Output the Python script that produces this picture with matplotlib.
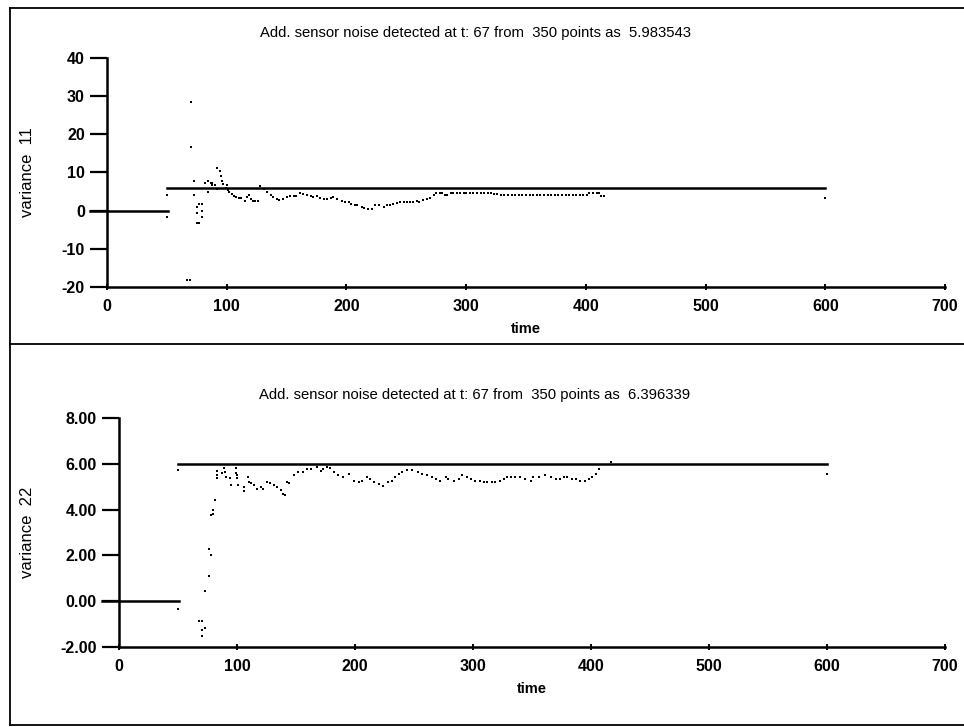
import matplotlib
matplotlib.use('Agg')
import matplotlib.pyplot as plt
from matplotlib.lines import Line2D

plt.rcParams['font.family'] = ['Liberation Sans', 'DejaVu Sans']
plt.rcParams['axes.unicode_minus'] = False

# ---- data ----
title_11 = 'Add. sensor noise detected at t: 67 from  350 points as  5.983543'
title_22 = 'Add. sensor noise detected at t: 67 from  350 points as  6.396339'

# detection levels (horizontal segments)
pre_t = [-14, 51]
pre_v = [0.0, 0.0]
level_t = [50, 600]
level_11 = [5.98, 5.98]
level_22 = [5.98, 5.98]

t_11 = [0, 50, 50, 67, 69, 70, 70, 73, 73, 75, 75, 75, 77, 77, 79, 79, 79,
        82, 84, 84, 87, 88, 88, 90, 92, 92, 94, 95, 96, 97, 99, 100, 101, 102,
        104, 106, 108, 110, 112, 115, 117, 119, 120, 122, 124, 126, 128, 131,
        134, 137, 139, 142, 144, 147, 150, 153, 156, 158, 161, 164, 167, 170,
        172, 175, 178, 181, 184, 187, 189, 192, 196, 199, 202, 204, 207, 209,
        213, 215, 218, 221, 224, 227, 231, 234, 236, 239, 242, 245, 248, 251,
        253, 256, 259, 261, 264, 267, 270, 273, 275, 278, 280, 282, 284, 287,
        289, 292, 295, 298, 300, 303, 306, 309, 312, 315, 318, 321, 323, 326,
        329, 332, 335, 338, 341, 344, 347, 350, 353, 356, 359, 362, 365, 368,
        371, 374, 377, 380, 383, 386, 389, 392, 395, 398, 401, 403, 406, 409,
        411, 413, 415, 600]
v_11 = [-1.5, 4.0, -1.7, -18.1, -18.1, 28.5, 16.7, 7.9, 4.0, 0.9, -0.6, -3.2,
        -3.2, 1.65, 1.65, 0.0, -1.7,
        7.2, 7.9, 4.9, 7.2, 7.2, 6.6, 6.6, 5.8, 11.2, 10.4, 9.2, 7.9, 7.1, 6.0,
        6.6, 5.5, 4.9, 4.3, 3.9, 3.5, 3.2, 3.2, 2.5, 3.6, 4.0, 3.0, 2.6, 2.5,
        2.5, 6.4, 5.6, 4.8, 4.0, 3.5, 3.0, 2.8, 3.1, 3.5, 3.8, 3.8, 3.9, 4.5,
        4.4, 4.2, 3.9, 3.7, 3.9, 3.4, 3.1, 3.1, 3.3, 3.5, 3.1, 2.5, 2.3, 2.2,
        1.8, 1.5, 1.4, 0.9, 0.7, 0.5, 0.5, 1.4, 1.4, 0.9, 1.4, 1.6, 1.8, 2.0,
        2.2, 2.2, 2.2, 2.2, 2.3, 2.5, 2.4, 2.9, 3.0, 3.4, 4.0, 4.6, 4.6, 4.5,
        4.2, 4.1, 4.5, 4.6, 4.6, 4.5, 4.6, 4.5, 4.5, 4.5, 4.5, 4.5, 4.5, 4.5,
        4.5, 4.4, 4.3, 4.2, 4.2, 4.2, 4.2, 4.2, 4.2, 4.2, 4.2, 4.2, 4.2, 4.2,
        4.2, 4.2, 4.2, 4.2, 4.2, 4.2, 4.2, 4.2, 4.2, 4.2, 4.2, 4.2, 4.2, 4.2,
        4.7, 4.7, 4.7, 4.7, 3.9, 3.9, 3.2]

t_22 = [0, 50, 50, 68, 70, 70, 70, 73, 73, 76, 76, 78, 78, 80, 80, 81,
        83, 83, 83, 87, 89, 90, 91, 94, 95, 99, 99, 100, 100, 101, 106, 106,
        109, 110, 112, 114, 117, 120, 122, 125, 128, 131, 134, 137, 139, 141,
        142, 144, 148, 152, 156, 159, 163, 168, 171, 173, 176, 179, 182, 186,
        190, 195, 199, 203, 206, 210, 213, 216, 220, 224, 228, 231, 234, 237,
        240, 244, 248, 253, 257, 261, 265, 269, 272, 277, 279, 284, 288, 291,
        295, 298, 302, 306, 309, 312, 316, 319, 323, 326, 329, 332, 336, 340,
        344, 349, 351, 356, 361, 366, 370, 374, 377, 380, 384, 387, 391, 395,
        398, 401, 404, 407, 417, 600]
v_22 = [-0.32, 5.73, -0.32, -0.85, -0.85, -1.25, -1.54, -1.15, 0.44, 1.1,
        2.28, 2.03, 3.75, 3.82, 4.0, 4.4,
        5.7, 5.5, 5.36, 5.58, 5.8, 5.65, 5.43, 5.36, 5.07, 5.83, 5.58, 5.5,
        5.36, 5.07, 4.99, 4.81, 5.43, 5.2, 5.14, 5.07, 4.92, 4.99, 4.92, 5.21,
        5.14, 5.07, 4.99, 4.85, 4.7, 4.63, 5.21, 5.14, 5.5, 5.65, 5.65, 5.78,
        5.78, 5.85, 5.7, 5.78, 5.85, 5.8, 5.63, 5.49, 5.41, 5.56, 5.27, 5.19,
        5.27, 5.41, 5.34, 5.19, 5.12, 5.05, 5.19, 5.27, 5.41, 5.56, 5.63, 5.71,
        5.71, 5.63, 5.56, 5.49, 5.41, 5.34, 5.27, 5.41, 5.34, 5.27, 5.34, 5.49,
        5.41, 5.34, 5.27, 5.27, 5.19, 5.19, 5.19, 5.19, 5.27, 5.34, 5.41, 5.41,
        5.41, 5.41, 5.34, 5.27, 5.41, 5.41, 5.49, 5.41, 5.34, 5.34, 5.41, 5.41,
        5.34, 5.34, 5.27, 5.27, 5.34, 5.41, 5.56, 5.78, 6.07, 5.55]

x_ticks = [0, 100, 200, 300, 400, 500, 600, 700]
y_ticks_11 = [-20, -10, 0, 10, 20, 30, 40]
y_ticks_22 = [-2, 0, 2, 4, 6, 8]

W, H = 964, 727
fig = plt.figure(figsize=(W / 100, H / 100), dpi=100)

# panel frames of the original printout
for y in (8, 344, 725):
    fig.add_artist(Line2D([10 / W, 1], [1 - y / H] * 2, transform=fig.transFigure,
                          color='black', lw=1.3))
fig.add_artist(Line2D([10 / W] * 2, [1 - 8 / H, 1 - 725 / H], transform=fig.transFigure,
                      color='black', lw=1.3))


def style(ax, yticks, ylims, fmt):
    for s in ('top', 'right'):
        ax.spines[s].set_visible(False)
    for s in ('left', 'bottom'):
        ax.spines[s].set_linewidth(1.8)
    ax.set_xlim(0, 700)
    ax.set_ylim(*ylims)
    ax.set_xticks(x_ticks)
    ax.set_yticks(yticks)
    ax.set_yticklabels([fmt.format(v) for v in yticks])
    ax.tick_params(axis='y', direction='out', length=12, width=1.6, pad=4, labelsize=11.5)
    ax.tick_params(axis='x', direction='inout', length=5, width=1.4, pad=6, labelsize=11.5)
    for lab in ax.get_xticklabels() + ax.get_yticklabels():
        lab.set_fontweight('bold')
    ax.set_xlabel('time', fontsize=10.5, fontweight='bold', labelpad=6)


# top panel: variance 11
ax1 = fig.add_axes([107 / W, 1 - 287 / H, (945 - 107) / W, (287 - 58) / H])
ax1.plot(pre_t, pre_v, color='black', lw=1.8, clip_on=False)
ax1.plot(level_t, level_11, color='black', lw=1.8)
ax1.plot(t_11, v_11, ls='none', marker='s', ms=2.0, color='black', mew=0)
style(ax1, y_ticks_11, (-20, 40), '{:d}')
ax1.set_ylabel('variance  11', fontsize=12)
ax1.yaxis.set_label_coords(-0.086, 0.5)
fig.text(475 / W, 1 - 33 / H, title_11, ha='center', va='center', fontsize=10.7)

# bottom panel: variance 22
ax2 = fig.add_axes([119 / W, 1 - 647 / H, (945 - 119) / W, (647 - 418) / H])
ax2.plot(pre_t, pre_v, color='black', lw=1.8, clip_on=False)
ax2.plot(level_t, level_22, color='black', lw=1.8)
ax2.plot(t_22, v_22, ls='none', marker='s', ms=2.0, color='black', mew=0)
style(ax2, y_ticks_22, (-2, 8), '{:.2f}')
ax2.set_ylabel('variance  22', fontsize=12)
ax2.yaxis.set_label_coords(-0.102, 0.5)
fig.text(475 / W, 1 - 395 / H, title_22, ha='center', va='center', fontsize=10.7)

fig.savefig('out.png', dpi=100)
